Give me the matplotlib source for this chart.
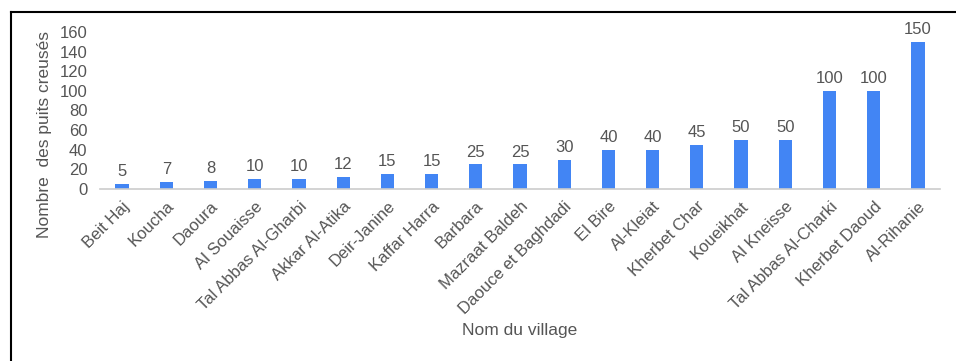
import matplotlib.pyplot as plt
from matplotlib.lines import Line2D

villages = ['Beit Haj', 'Koucha', 'Daoura', 'Al Souaisse', 'Tal Abbas Al-Gharbi',
            'Akkar Al-Atika', 'Deir-Janine', 'Kaffar Harra', 'Barbara', 'Mazraat Baldeh',
            'Daouce et Baghdadi', 'El Bire', 'Al-Kleiat', 'Kherbet Char', 'Koueikhat',
            'Al Kneisse', 'Tal Abbas Al-Charki', 'Kherbet Daoud', 'Al-Rihanie']
puits = [5, 7, 8, 10, 10, 12, 15, 15, 25, 25, 30, 40, 40, 45, 50, 50, 100, 100, 150]
yticks = [0, 20, 40, 60, 80, 100, 120, 140, 160]

plt.rcParams['font.family'] = ['Liberation Sans', 'DejaVu Sans']
grey = '#555555'

fig = plt.figure(figsize=(9.56, 3.61), dpi=100)
W, H = 956, 361
# axes placed in pixels
left, right, top, bottom = 100, 940, 32, 189
ax = fig.add_axes([left / W, 1 - bottom / H, (right - left) / W, (bottom - top) / H])

x = list(range(len(villages)))
ax.bar(x, puits, width=0.3, color='#4285F4')
for xi, v in zip(x, puits):
    ax.text(xi, v + 5, str(v), ha='center', va='bottom', fontsize=12, color=grey)

ax.set_xlim(-0.5, len(villages) - 0.5)
ax.set_ylim(0, 160)
ax.set_yticks(yticks)
ax.set_yticklabels([str(t) for t in yticks], fontsize=12, color=grey)
ax.set_xticks(x)
ax.set_xticklabels(villages, rotation=45, ha='right', rotation_mode='anchor',
                   fontsize=12, color=grey)
ax.tick_params(axis='y', length=0, pad=9)
ax.tick_params(axis='x', length=0, pad=7)
for s in ['top', 'right', 'left']:
    ax.spines[s].set_visible(False)
ax.spines['bottom'].set_color('#cccccc')
ax.spines['bottom'].set_linewidth(1.2)

fig.text(45 / W, 1 - 135 / H, 'Nombre  des puits creusés', rotation=90,
         ha='center', va='center', fontsize=12.5, color=grey)
fig.text(520 / W, 1 - 331 / H, 'Nom du village', ha='center', va='center',
         fontsize=12.5, color=grey)

# outer frame (top and left edges only visible)
fig.add_artist(Line2D([10.5 / W, 10.5 / W], [0, 1 - 12 / H], color='black', lw=1.5,
                      transform=fig.transFigure))
fig.add_artist(Line2D([10.5 / W, 1], [1 - 12 / H, 1 - 12 / H], color='black', lw=1.5,
                      transform=fig.transFigure))

plt.savefig('out.png', dpi=100)
